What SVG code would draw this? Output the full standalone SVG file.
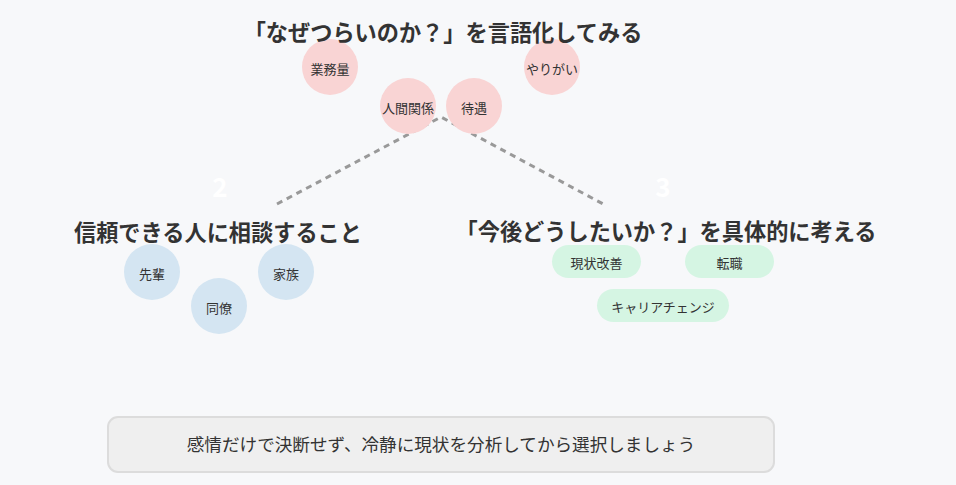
<svg xmlns="http://www.w3.org/2000/svg" width="956" height="485" viewBox="0 0 956 485">
<style>
text{font-family:"Noto Sans CJK JP","Noto Sans",sans-serif;fill:#333;text-anchor:middle;dominant-baseline:central}
.title{font-size:22.2px;font-weight:700}
.num{font-size:26px;font-weight:700;fill:#ffffff}
.lbl{font-size:13px}
.pink{fill:#f9d4d4}
.blue{fill:#d4e5f2}
.green{fill:#d5f5e3}
.conn{fill:none;stroke:#999;stroke-width:3;stroke-dasharray:6 5;stroke-linejoin:round}
</style>
<rect width="956" height="485" fill="#f7f8fa"/>
<g id="connectors">
<path class="conn" d="M277,204 L441,117 L605,205"/>
</g>
<g id="n-gyomuryo"><circle class="pink" cx="330" cy="67" r="28"/><text class="lbl" x="330" y="68">業務量</text></g>
<g id="n-yarigai"><circle class="pink" cx="552" cy="67" r="28"/><text class="lbl" x="552" y="68">やりがい</text></g>
<g id="n-ningen"><circle class="pink" cx="408" cy="106" r="28"/><text class="lbl" x="408" y="107">人間関係</text></g>
<g id="n-taigu"><circle class="pink" cx="474" cy="106" r="28"/><text class="lbl" x="474" y="107">待遇</text></g>
<g id="section1">
<text class="title" x="443" y="31">「なぜつらいのか？」を言語化してみる</text>
</g>
<g id="n-senpai"><circle class="blue" cx="152" cy="272" r="28"/><text class="lbl" x="152" y="273">先輩</text></g>
<g id="n-kazoku"><circle class="blue" cx="286" cy="272" r="28"/><text class="lbl" x="286" y="273">家族</text></g>
<g id="n-doryo"><circle class="blue" cx="219" cy="306" r="28"/><text class="lbl" x="219" y="307">同僚</text></g>
<g id="section2">
<text class="num" x="220" y="185">2</text>
<text class="title" x="218" y="231">信頼できる人に相談すること</text>
</g>
<g id="n-kaizen"><rect class="green" x="552" y="245" width="89" height="33" rx="16.5"/><text class="lbl" x="596.5" y="262">現状改善</text></g>
<g id="n-tenshoku"><rect class="green" x="685" y="245" width="89" height="33" rx="16.5"/><text class="lbl" x="729.5" y="262">転職</text></g>
<g id="n-career"><rect class="green" x="597" y="289" width="132" height="33" rx="16.5"/><text class="lbl" x="663" y="306">キャリアチェンジ</text></g>
<g id="section3">
<text class="num" x="663" y="185">3</text>
<text class="title" x="666" y="230">「今後どうしたいか？」を具体的に考える</text>
</g>
<g id="note">
<rect x="108" y="417" width="666" height="55" rx="10" fill="#efefef" stroke="#dcdcdc" stroke-width="2"/>
<text x="441" y="443" style="font-size:17.6px">感情だけで決断せず、冷静に現状を分析してから選択しましょう</text>
</g>
</svg>
